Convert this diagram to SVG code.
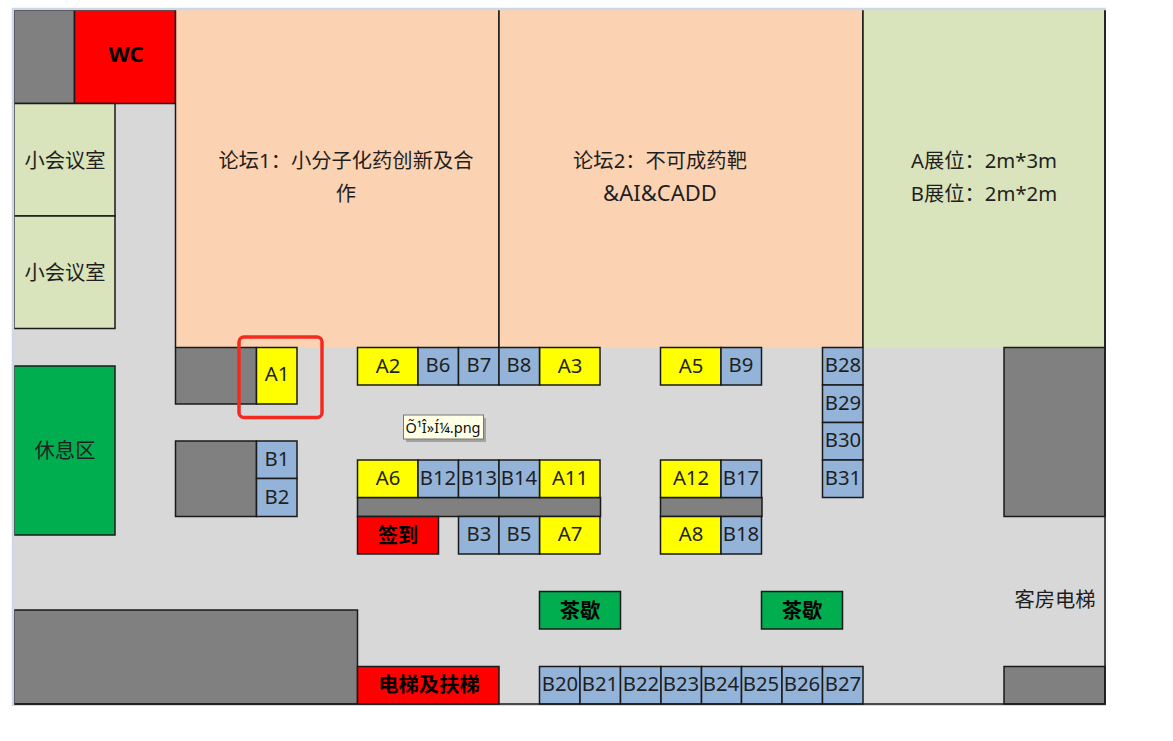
<svg xmlns="http://www.w3.org/2000/svg" width="1173" height="741" viewBox="0 0 1173 741">
<style>
rect.c{stroke:#1a1a1a;stroke-width:1.5}
.g{fill:#808080}.r{fill:#ff0000}.p{fill:#fcd3b2}.l{fill:#d9e4bc}.v{fill:#00ae50}.y{fill:#ffff00}.b{fill:#94b3d8}
text{font-family:"Noto Sans","Noto Sans CJK SC",sans-serif;font-size:20.3px;fill:#1f1f1f;text-anchor:middle}
text.s{font-weight:700;fill:#000}
</style>
<rect x="14" y="10" width="1092" height="696" fill="#d8d8d8"/>
<rect x="1106" y="8" width="2" height="698" fill="#fff"/>
<g id="rooms">
<g id="store1"><rect class="c g" x="14" y="10" width="60.500" height="93.500"/></g>
<g id="wc"><rect class="c r" x="74.500" y="10" width="101" height="93.500"/><text class="s" x="126" y="62" style="font-size:22px">WC</text></g>
<g id="meeting1"><rect class="c l" x="14" y="103.500" width="101" height="112.500"/><text x="65" y="168">小会议室</text></g>
<g id="meeting2"><rect class="c l" x="14" y="216" width="101" height="112.500"/><text x="65" y="280">小会议室</text></g>
<g id="forum1"><rect class="p" x="175.500" y="10" width="323.500" height="337.500"/><path d="M175.500 10V347.500M499 10V347.500" stroke="#1a1a1a" stroke-width="1.500"/><text x="346" y="168">论坛1：小分子化药创新及合</text><text x="346" y="201">作</text></g>
<g id="forum2"><rect class="p" x="499" y="10" width="364" height="337.500"/><path d="M499 10V347.500M863 10V347.500" stroke="#1a1a1a" stroke-width="1.500"/><text x="660" y="168">论坛2：不可成药靶</text><text x="660" y="201" style="font-size:22px">&amp;AI&amp;CADD</text></g>
<g id="legend"><rect class="l" x="863" y="10" width="242" height="337.500"/><path d="M863 10V347.500M1105 10V347.500" stroke="#1a1a1a" stroke-width="1.500"/><text x="984" y="168">A展位：2m*3m</text><text x="984" y="201">B展位：2m*2m</text></g>
<g id="rest"><rect class="c v" x="14" y="366" width="101" height="169"/><text x="65" y="458">休息区</text></g>
<g id="store2"><rect class="c g" x="175.500" y="347.500" width="81" height="56.500"/></g>
<g id="store3"><rect class="c g" x="175.500" y="441" width="81" height="75.500"/></g>
<g id="store4"><rect class="c g" x="357.500" y="497.500" width="243" height="19"/></g>
<g id="store5"><rect class="c g" x="660.500" y="497.500" width="101.500" height="19"/></g>
<g id="store6"><rect class="c g" x="1004" y="347.500" width="101" height="169"/></g>
<g id="store7"><rect class="c g" x="14" y="610" width="343.500" height="94"/></g>
<g id="store8"><rect class="c g" x="1004" y="666.500" width="101" height="37.500"/></g>
<g id="signin"><rect class="c r" x="357.500" y="516.500" width="81" height="37.500"/><text class="s" x="398" y="543">签到</text></g>
<g id="tea1"><rect class="c v" x="539.500" y="591.500" width="81" height="37.500"/><text class="s" x="580" y="618">茶歇</text></g>
<g id="tea2"><rect class="c v" x="761.500" y="591.500" width="81" height="37.500"/><text class="s" x="802" y="618">茶歇</text></g>
<g id="lift"><rect class="c r" x="357.500" y="666.500" width="141.500" height="37.500"/><text class="s" x="429" y="692">电梯及扶梯</text></g>
<g id="guestlift"><text x="1055" y="607">客房电梯</text></g>
</g>
<g id="booths">
<g id="A1"><rect class="c y" x="256.500" y="347.500" width="40.500" height="56.500"/><text x="277" y="381">A1</text></g>
<g id="A2"><rect class="c y" x="357.500" y="347.500" width="60.500" height="37.500"/><text x="388" y="373">A2</text></g>
<g id="A3"><rect class="c y" x="539.500" y="347.500" width="60.500" height="37.500"/><text x="570" y="373">A3</text></g>
<g id="A5"><rect class="c y" x="660.500" y="347.500" width="60.500" height="37.500"/><text x="691" y="373">A5</text></g>
<g id="A6"><rect class="c y" x="357.500" y="460" width="60.500" height="37.500"/><text x="388" y="485">A6</text></g>
<g id="A11"><rect class="c y" x="539.500" y="460" width="60.500" height="37.500"/><text x="570" y="485">A11</text></g>
<g id="A12"><rect class="c y" x="660.500" y="460" width="60.500" height="37.500"/><text x="691" y="485">A12</text></g>
<g id="A7"><rect class="c y" x="539.500" y="516.500" width="60.500" height="37.500"/><text x="570" y="541">A7</text></g>
<g id="A8"><rect class="c y" x="660.500" y="516.500" width="60.500" height="37.500"/><text x="691" y="541">A8</text></g>
<g id="B6"><rect class="c b" x="418" y="347.500" width="40.500" height="37.500"/><text x="438" y="372">B6</text></g>
<g id="B7"><rect class="c b" x="458.500" y="347.500" width="40.500" height="37.500"/><text x="479" y="372">B7</text></g>
<g id="B8"><rect class="c b" x="499" y="347.500" width="40.500" height="37.500"/><text x="519" y="372">B8</text></g>
<g id="B9"><rect class="c b" x="721" y="347.500" width="40.500" height="37.500"/><text x="741" y="372">B9</text></g>
<g id="B1"><rect class="c b" x="256.500" y="441" width="40.500" height="37.500"/><text x="277" y="466">B1</text></g>
<g id="B2"><rect class="c b" x="256.500" y="478.500" width="40.500" height="38"/><text x="277" y="504">B2</text></g>
<g id="B12"><rect class="c b" x="418" y="460" width="40.500" height="37.500"/><text x="438" y="485">B12</text></g>
<g id="B13"><rect class="c b" x="458.500" y="460" width="40.500" height="37.500"/><text x="479" y="485">B13</text></g>
<g id="B14"><rect class="c b" x="499" y="460" width="40.500" height="37.500"/><text x="519" y="485">B14</text></g>
<g id="B17"><rect class="c b" x="721" y="460" width="40.500" height="37.500"/><text x="741" y="485">B17</text></g>
<g id="B3"><rect class="c b" x="458.500" y="516.500" width="40.500" height="37.500"/><text x="479" y="541">B3</text></g>
<g id="B5"><rect class="c b" x="499" y="516.500" width="40.500" height="37.500"/><text x="519" y="541">B5</text></g>
<g id="B18"><rect class="c b" x="721" y="516.500" width="40.500" height="37.500"/><text x="741" y="541">B18</text></g>
<g id="B28"><rect class="c b" x="822.500" y="347.500" width="40.500" height="37.500"/><text x="843" y="372">B28</text></g>
<g id="B29"><rect class="c b" x="822.500" y="385" width="40.500" height="37.500"/><text x="843" y="410">B29</text></g>
<g id="B30"><rect class="c b" x="822.500" y="422.500" width="40.500" height="37.500"/><text x="843" y="447">B30</text></g>
<g id="B31"><rect class="c b" x="822.500" y="460" width="40.500" height="37.500"/><text x="843" y="485">B31</text></g>
<g id="B20"><rect class="c b" x="539.500" y="666.500" width="40.500" height="37.500"/><text x="560" y="691">B20</text></g>
<g id="B21"><rect class="c b" x="580" y="666.500" width="40.500" height="37.500"/><text x="600" y="691">B21</text></g>
<g id="B22"><rect class="c b" x="620.500" y="666.500" width="40.500" height="37.500"/><text x="641" y="691">B22</text></g>
<g id="B23"><rect class="c b" x="661" y="666.500" width="40.500" height="37.500"/><text x="681" y="691">B23</text></g>
<g id="B24"><rect class="c b" x="701.500" y="666.500" width="40" height="37.500"/><text x="721" y="691">B24</text></g>
<g id="B25"><rect class="c b" x="741.500" y="666.500" width="40.500" height="37.500"/><text x="761" y="691">B25</text></g>
<g id="B26"><rect class="c b" x="782" y="666.500" width="40.500" height="37.500"/><text x="802" y="691">B26</text></g>
<g id="B27"><rect class="c b" x="822.500" y="666.500" width="40.500" height="37.500"/><text x="843" y="691">B27</text></g>
</g>
<path d="M14 704H1105V10" fill="none" stroke="#1a1a1a" stroke-width="1.500"/>
<path d="M13 706V9H1106" fill="none" stroke="#cdd7e6" stroke-width="2.500"/>
<g id="connectors"/>
<g id="tooltip"><rect x="406" y="418" width="80" height="24" fill="#777" opacity=".55"/><rect x="403.500" y="415" width="80" height="24" fill="#ffffe6" stroke="#777"/><text x="443" y="433" style="font-size:14.500px;fill:#111">Õ¹Î»Í¼.png</text></g>
<rect id="highlight" x="239" y="337" width="83" height="80.500" rx="5" fill="none" stroke="#f52a1e" stroke-width="3.500"/>
</svg>
